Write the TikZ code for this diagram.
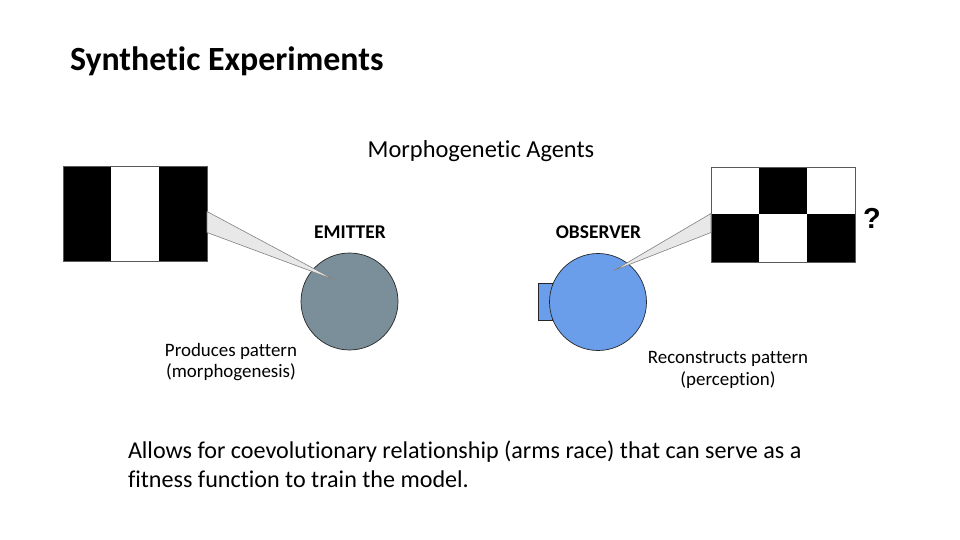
\documentclass[tikz,border=0pt]{standalone}
\usepackage{fontspec}
\setmainfont{Carlito}[Ligatures=NoCommon]
\newfontfamily\qfont{Liberation Sans}
\usepackage{xcolor}
\usetikzlibrary{positioning,calc}
\definecolor{emitB}{HTML}{7A8F9A}
\definecolor{obsB}{HTML}{6A9DEA}
\definecolor{cueG}{HTML}{E8E8E8}

\begin{document}
\begin{tikzpicture}[x=1bp, y=-1bp,
  every node/.style={inner sep=0pt, outer sep=0pt},
  pat/.style={rectangle, draw=black!65, line width=0.7pt, minimum width=144bp, minimum height=95bp},
  agent/.style={circle, draw=black!85, line width=0.7pt, minimum size=97bp},
  cue/.style={fill=cueG, draw=black!50, line width=0.6pt},
  head/.style={font=\bfseries\fontsize{19.5}{22}\selectfont},
  tag/.style={font=\fontsize{19}{22}\selectfont, align=center}
]
  \useasboundingbox (0,0) rectangle (960,540);
  % ---- heading ----
  \node[anchor=base west, font=\bfseries\fontsize{34}{40}\selectfont] (title) at (70,71) {Synthetic Experiments};
  \node[anchor=base, font=\fontsize{24.5}{29}\selectfont] (sub) at (481,158) {Morphogenetic Agents};
  % ---- emitter (left) ----
  \node[pat] (lpat) at (135,213.5) {};
  \foreach \i in {0,2}
     \fill[black] ($(lpat.north west)+(\i*48,0)$) rectangle +(48,95);
  \draw[black!65, line width=0.7pt] (lpat.north west) rectangle (lpat.south east);
  \node[agent, fill=emitB] (emit) at (349.5,301.5) {};
  \coordinate (etip) at (335,280);
  \draw[cue] ($(lpat.east)+(0,-2)$) -- (etip) -- ($(lpat.east)+(0,19)$) -- cycle;
  \node[head, anchor=base] (emitlab) at (350,239) {EMITTER};
  \node[tag, anchor=base] (emittxt) at (231,378) {Produces pattern\\(morphogenesis)};
  % ---- observer (right) ----
  \node[pat] (rpat) at (783,214.5) {};
  \foreach \c/\r in {1/0,0/1,2/1}
     \fill[black] ($(rpat.north west)+(\c*48,\r*47.5)$) rectangle +(48,47.5);
  \draw[black!65, line width=0.7pt] (rpat.north west) rectangle (rpat.south east);
  \node[rectangle, draw=black!85, fill=obsB, line width=0.7pt, minimum width=14bp, minimum height=37bp] (eye) at (545,301.5) {};
  \node[agent, fill=obsB] (obs) at (598,302) {};
  \coordinate (otip) at (614,270.5);
  \draw[cue] ($(rpat.west)+(0,-1)$) -- (otip) -- ($(rpat.west)+(0,18)$) -- cycle;
  \node[head, anchor=base] (obslab) at (598.5,239) {OBSERVER};
  \node[font=\qfont\bfseries\fontsize{29}{32}\selectfont, anchor=base] (ask) at (872,229) {?};
  \node[tag, anchor=base] (obstxt) at (728,385) {Reconstructs pattern\\(perception)};
  % ---- note ----
  \node[anchor=base west, align=left, font=\fontsize{24.2}{29}\selectfont] (note) at (128,487)
        {Allows for coevolutionary relationship (arms race) that can serve as a\\fitness function to train the model.};
\end{tikzpicture}
\end{document}
